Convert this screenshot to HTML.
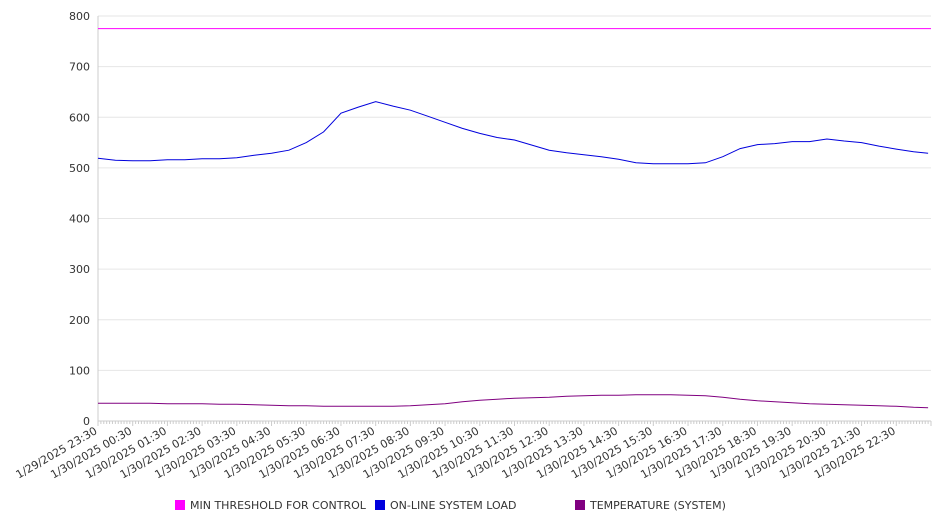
<!DOCTYPE html>
<html><head><meta charset="utf-8"><style>
body{margin:0;background:#fff;font-family:"DejaVu Sans","Liberation Sans",sans-serif;}
svg text{font-family:"DejaVu Sans","Liberation Sans",sans-serif;fill:#333;font-size:11px;}
</style></head><body>
<svg id="chart" width="946" height="526" xmlns="http://www.w3.org/2000/svg"></svg>
<script>
const xLabels=["1/29/2025 23:30","1/30/2025 00:30","1/30/2025 01:30","1/30/2025 02:30","1/30/2025 03:30","1/30/2025 04:30","1/30/2025 05:30","1/30/2025 06:30","1/30/2025 07:30","1/30/2025 08:30","1/30/2025 09:30","1/30/2025 10:30","1/30/2025 11:30","1/30/2025 12:30","1/30/2025 13:30","1/30/2025 14:30","1/30/2025 15:30","1/30/2025 16:30","1/30/2025 17:30","1/30/2025 18:30","1/30/2025 19:30","1/30/2025 20:30","1/30/2025 21:30","1/30/2025 22:30"];
const yTicks=[0,100,200,300,400,500,600,700,800];
// half-hour samples starting 23:30 (minutes offset)
const sampleMinutes=[0,30,60,90,120,150,180,210,240,270,300,330,360,390,420,450,480,510,540,570,600,630,660,690,720,750,780,810,840,870,900,930,960,990,1020,1050,1080,1110,1140,1170,1200,1230,1260,1290,1320,1350,1380,1410,1435];
const loadValues=[519,515,514,514,516,516,518,518,520,525,529,535,550,571,608,620,631,622,614,602,590,578,568,560,555,545,535,530,526,522,517,510,508,508,508,510,522,538,546,548,552,552,557,553,550,543,537,532,529];
const tempValues=[35,35,35,35,34,34,34,33,33,32,31,30,30,29,29,29,29,29,30,32,34,38,41,43,45,46,47,49,50,51,51,52,52,52,51,50,47,43,40,38,36,34,33,32,31,30,29,27,26];
const thresholdValue=775;
const seriesNames=["MIN THRESHOLD FOR CONTROL","ON-LINE SYSTEM LOAD","TEMPERATURE (SYSTEM)"];
const seriesColors=["#ff00ff","#0000dd","#800080"];

const svg=document.getElementById('chart');
const NS="http://www.w3.org/2000/svg";
const X0=98,X1=931,Y0=421,Y1=16,TOTAL=1440;
const xs=m=>X0+(m/TOTAL)*(X1-X0);
const ys=v=>Y0-(v/800)*(Y0-Y1);
function mk(t,a,p){const e=document.createElementNS(NS,t);for(const k in a)e.setAttribute(k,a[k]);(p||svg).appendChild(e);return e;}

yTicks.forEach(v=>{
  const g=mk('line',{x1:X0,x2:X1,y1:ys(v),y2:ys(v),stroke:v===0?'#ccc':'#e6e6e6','stroke-width':1});
  
  
  const t=mk('text',{x:X0-8,y:ys(v)+4,'text-anchor':'end'});t.textContent=v;
  
  
});
const ax=mk('line',{x1:X0,x2:X0,y1:Y1,y2:Y0,stroke:'#ccc'});


for(let m=0;m<=TOTAL;m+=5){
  const l=mk('line',{x1:xs(m),x2:xs(m),y1:Y0,y2:Y0+(m%60===0?5:3),stroke:'#ccc'});
  
  
}
xLabels.forEach((s,i)=>{
  const x=xs(i*60);
  const t=mk('text',{x:x,y:Y0+12,'text-anchor':'end',transform:`rotate(-30 ${x} ${Y0+12})`});t.textContent=s;
  
  
});
function line(vals,color,name){
  const d=vals.map((v,i)=>(i?'L':'M')+xs(sampleMinutes[i]).toFixed(1)+','+ys(v).toFixed(1)).join(' ');
  const p=mk('path',{d:d,fill:'none',stroke:color,'stroke-width':1});
  
  
}
const th=mk('line',{x1:X0,x2:X1,y1:ys(thresholdValue),y2:ys(thresholdValue),stroke:seriesColors[0]});


line(loadValues,seriesColors[1],'load-line');
line(tempValues,seriesColors[2],'temperature-line');
const lx=[175,375,575];
seriesNames.forEach((n,i)=>{
  const r=mk('rect',{x:lx[i],y:500,width:10,height:10,fill:seriesColors[i]});
  
  
  const t=mk('text',{x:lx[i]+15,y:509});t.textContent=n;
  
  
});
</script>
</body></html>
